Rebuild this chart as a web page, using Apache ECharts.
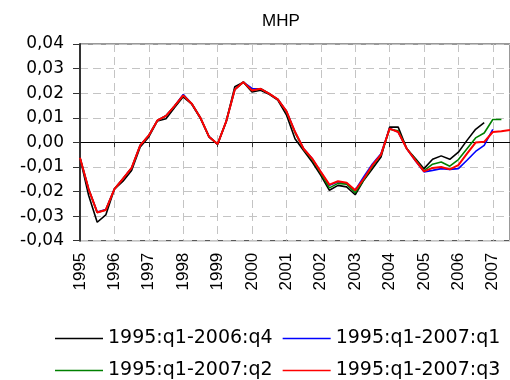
<!DOCTYPE html>
<html>
<head>
<meta charset="utf-8">
<script src="https://cdn.jsdelivr.net/npm/echarts@6/dist/echarts.min.js"></script>
<style>html,body{margin:0;padding:0;background:#fff}#c{width:510px;height:380px}</style>
</head>
<body>
<div id="c"></div>
<script>
var years = [1995,1996,1997,1998,1999,2000,2001,2002,2003,2004,2005,2006,2007];
var quarters = ['q1','q2','q3','q4'];
var categories = [];
years.forEach(function(y){ quarters.forEach(function(q){ if (!(y === 2007 && q === 'q4')) categories.push(y + ':' + q); }); });

var seriesNames = ['1995:q1-2006:q4','1995:q1-2007:q1','1995:q1-2007:q2','1995:q1-2007:q3'];

var black = [-0.0063,-0.0215,-0.0325,-0.0295,-0.019,-0.0158,-0.0114,-0.0019,0.0022,0.0087,
  0.0096,0.0142,0.0185,0.0155,0.0098,0.0022,-0.0008,0.0085,0.0226,0.0245,
  0.0205,0.0212,0.0195,0.0172,0.0112,0.0015,-0.0033,-0.008,-0.0134,-0.0195,
  -0.0175,-0.0181,-0.0213,-0.0154,-0.0107,-0.006,0.0062,0.0062,-0.0026,-0.0066,
  -0.0107,-0.0069,-0.0055,-0.0069,-0.004,0.0008,0.0053,0.008];
var blue = [-0.0063,-0.019,-0.0283,-0.0273,-0.019,-0.0148,-0.0104,-0.0012,0.0028,0.0089,
  0.0108,0.0148,0.0195,0.0157,0.01,0.0023,-0.0007,0.0085,0.0215,0.0245,
  0.0219,0.0218,0.0198,0.0175,0.0127,0.0043,-0.0026,-0.0066,-0.012,-0.0175,
  -0.016,-0.0166,-0.0195,-0.014,-0.0088,-0.0046,0.0056,0.0042,-0.0026,-0.0075,
  -0.012,-0.0114,-0.0107,-0.011,-0.0107,-0.0073,-0.0037,-0.0012,0.0053];
var green = [-0.0063,-0.019,-0.0285,-0.0275,-0.019,-0.0148,-0.0104,-0.0012,0.0028,0.0089,
  0.0108,0.0148,0.0191,0.0157,0.01,0.0023,-0.0007,0.0085,0.0215,0.0245,
  0.0211,0.0218,0.0198,0.0175,0.0125,0.004,-0.0028,-0.007,-0.0125,-0.0185,
  -0.0167,-0.017,-0.0205,-0.0152,-0.0097,-0.005,0.0053,0.0047,-0.0026,-0.007,
  -0.0115,-0.0089,-0.008,-0.0097,-0.007,-0.0026,0.0018,0.0038,0.0093,0.0093];
var red = [-0.0063,-0.019,-0.0285,-0.0275,-0.019,-0.0148,-0.0104,-0.0012,0.0028,0.0089,
  0.0108,0.0148,0.0191,0.0157,0.01,0.0023,-0.0007,0.0085,0.0215,0.0245,
  0.0211,0.0218,0.0198,0.0175,0.0127,0.0043,-0.0026,-0.0066,-0.012,-0.0172,
  -0.0158,-0.0164,-0.0195,-0.0148,-0.0093,-0.005,0.0056,0.0042,-0.0026,-0.0073,
  -0.0118,-0.0104,-0.01,-0.011,-0.0093,-0.0046,-0.0001,0.0002,0.0042,0.0045,0.005];

var yTicks = {min: -0.04, max: 0.04, step: 0.01};

var chart = echarts.init(document.getElementById('c'), null, {renderer: 'canvas'});
var gridLine = {show: true, lineStyle: {color: '#c4c4c4', type: [8, 5], width: 1}};
function mk(name, data, color, w, z) {
  return {name: name, type: 'line', data: data, xAxisIndex: 0, showSymbol: false, symbol: 'none',
    lineStyle: {color: color, width: w}, itemStyle: {color: color}, z: z, animation: false};
}
var legendText = {fontFamily: 'DejaVu Sans', fontSize: 19, color: '#000'};
chart.setOption({
  backgroundColor: '#ffffff',
  animation: false,
  title: {text: 'MHP', left: 257, top: 8,
    textStyle: {fontFamily: 'Liberation Sans', fontSize: 17, fontWeight: 'normal', color: '#000'}},
  grid: {left: 80, top: 44, right: -14.5, bottom: 139.3, show: true, borderColor: '#333', borderWidth: 1, backgroundColor: 'transparent'},
  legend: [
    {data: seriesNames.slice(0, 2), left: 55, top: 329, width: 480, padding: 0, icon: 'rect', itemWidth: 48, itemHeight: 1.5, itemGap: 10,
      textStyle: legendText},
    {data: seriesNames.slice(2, 4), left: 55, top: 361, width: 480, padding: 0, icon: 'rect', itemWidth: 48, itemHeight: 1.5, itemGap: 10,
      textStyle: legendText}
  ],
  xAxis: [
    {type: 'category', data: categories, boundaryGap: false, position: 'bottom',
      axisLine: {show: false, onZero: false}, axisTick: {show: false},
      axisLabel: {interval: 3, rotate: 90, margin: 12, color: '#000', fontFamily: 'Liberation Sans', fontSize: 17,
        formatter: function(v){ return v.split(':')[0]; }},
      splitLine: {show: true, interval: 3, lineStyle: gridLine.lineStyle}},
    {type: 'category', data: categories, boundaryGap: false, position: 'top',
      axisLine: {show: true, onZero: true, lineStyle: {color: '#000', width: 1}},
      axisTick: {show: true, inside: true, interval: 3, length: 5, lineStyle: {color: '#333', width: 1}},
      axisLabel: {show: false}, splitLine: {show: false}}
  ],
  yAxis: {type: 'value', min: yTicks.min, max: yTicks.max, interval: yTicks.step,
    axisLine: {show: true, onZero: false, lineStyle: {color: '#333', width: 2}},
    axisTick: {show: true, length: 7, lineStyle: {color: '#333', width: 1}},
    axisLabel: {margin: 16, color: '#000', fontFamily: 'DejaVu Sans', fontSize: 17,
      formatter: function(v){ return v.toFixed(2).replace('.', ','); }},
    splitLine: gridLine},
  series: [
    mk(seriesNames[0], black, '#000000', 1.6, 2),
    mk(seriesNames[1], blue, '#0000ff', 1.6, 3),
    mk(seriesNames[2], green, '#008000', 1.6, 4),
    mk(seriesNames[3], red, '#ff0000', 2, 5)
  ]
});
</script>
</body>
</html>
